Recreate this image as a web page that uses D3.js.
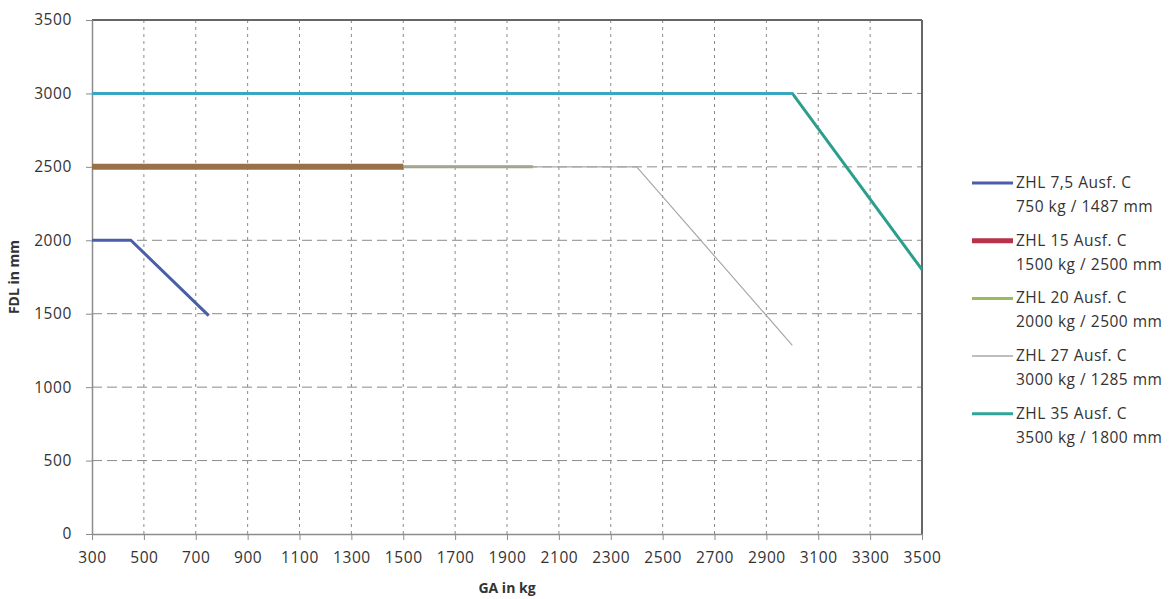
<!DOCTYPE html>
<html><head><meta charset="utf-8">
<script src="https://cdn.jsdelivr.net/npm/d3@7"></script>
<style>body{margin:0;background:#fff;} svg{display:block;}</style>
</head><body>
<svg id="c" width="1171" height="599"></svg>
<script>
const xTicks = [300,500,700,900,1100,1300,1500,1700,1900,2100,2300,2500,2700,2900,3100,3300,3500];
const yTicks = [0,500,1000,1500,2000,2500,3000,3500];
const seriesNames = ["ZHL 7,5 Ausf. C","ZHL 15 Ausf. C","ZHL 20 Ausf. C","ZHL 27 Ausf. C","ZHL 35 Ausf. C"];
const seriesSub = ["750 kg / 1487 mm","1500 kg / 2500 mm","2000 kg / 2500 mm","3000 kg / 1285 mm","3500 kg / 1800 mm"];
const zhl75 = [[300,2000],[450,2000],[750,1487]];
const zhl15 = [[300,2500],[1500,2500]];
const zhl20 = [[300,2500],[2000,2500]];
const zhl27 = [[300,2500],[2400,2500],[3000,1285]];
const zhl35 = [[300,3000],[3000,3000],[3500,1800]];

const svg = d3.select("#c");
const m = {l:92, r:922, t:20, b:534};
const x = d3.scaleLinear().domain([300,3500]).range([m.l,m.r]);
const y = d3.scaleLinear().domain([0,3500]).range([m.b,m.t]);
const font = "'Open Sans', sans-serif";

const defs = svg.append("defs");
const g35 = defs.append("linearGradient").attr("id","g35").attr("gradientUnits","userSpaceOnUse")
  .attr("x1",x(300)).attr("x2",x(3500)).attr("y1",0).attr("y2",0);
const off = (x(3000)-x(300))/(x(3500)-x(300));
g35.append("stop").attr("offset",off).attr("stop-color","#3ba6c2");
g35.append("stop").attr("offset",off+0.001).attr("stop-color","#2b9e8c");

svg.append("g").selectAll("line").data(xTicks.slice(1,-1)).join("line")
  .attr("x1",d=>x(d)).attr("x2",d=>x(d)).attr("y1",m.t).attr("y2",m.b)
  .attr("stroke","#8a8a8a").attr("stroke-width",1).attr("stroke-dasharray","3,4");
svg.append("g").selectAll("line").data(yTicks.slice(1,-1)).join("line")
  .attr("x1",m.l).attr("x2",m.r).attr("y1",d=>y(d)).attr("y2",d=>y(d))
  .attr("stroke","#8a8a8a").attr("stroke-width",1).attr("stroke-dasharray","10,5");

svg.append("line").attr("x1",m.l).attr("x2",m.r).attr("y1",m.t).attr("y2",m.t).attr("stroke","#666").attr("stroke-width",2);
svg.append("line").attr("x1",m.r).attr("x2",m.r).attr("y1",m.t).attr("y2",m.b).attr("stroke","#666").attr("stroke-width",2);

const fmt = d3.format("d");
const xAxis = svg.append("g").attr("transform",`translate(0,${m.b})`)
  .call(d3.axisBottom(x).tickValues(xTicks).tickFormat(fmt).tickSize(6).tickSizeOuter(0).tickPadding(12));
const yAxis = svg.append("g").attr("transform",`translate(${m.l},0)`)
  .call(d3.axisLeft(y).tickValues(yTicks).tickFormat(fmt).tickSize(6).tickSizeOuter(0).tickPadding(14));
[xAxis,yAxis].forEach(a=>{
  a.select(".domain").attr("stroke","#8c8c8c").attr("stroke-width",1.5);
  a.selectAll(".tick line").attr("stroke","#8c8c8c");
  a.selectAll("text").attr("font-family",font).attr("font-size",15.5).attr("letter-spacing",0.6).attr("fill","#333");
});

const line = d3.line().x(d=>x(d[0])).y(d=>y(d[1]));
const series = [
  {d:zhl35, c:"url(#g35)", w:3},
  {d:zhl20, c:"#96a560", w:3},
  {d:zhl27, c:"#a8a8a8", w:1.2},
  {d:zhl15, c:"#9a7048", w:6},
  {d:zhl75, c:"#4a5fa5", w:3}
];
series.forEach(s=>{
  svg.append("path").datum(s.d).attr("d",line).attr("fill","none")
    .attr("stroke",s.c).attr("stroke-width",s.w).attr("stroke-linejoin","round");
});

svg.append("text").attr("x",x(1900)).attr("y",593).attr("text-anchor","middle")
  .attr("font-family",font).attr("font-size",14).attr("font-weight","bold").attr("fill","#333").text("GA in kg");
svg.append("text").attr("transform","translate(19,277) rotate(-90)").attr("text-anchor","middle")
  .attr("font-family",font).attr("font-size",14).attr("font-weight","bold").attr("fill","#333").text("FDL in mm");

const legColors = ["#4a5fa5","#b8324a","#9bbb59","#a8a8a8","#2fa59a"];
const legW = [3,5,3,1.5,3];
const lg = svg.append("g");
seriesNames.forEach((n,i)=>{
  const yy = 183 + i*57.7;
  lg.append("line").attr("x1",972).attr("x2",1013).attr("y1",yy).attr("y2",yy)
    .attr("stroke",legColors[i]).attr("stroke-width",legW[i]);
  lg.append("text").attr("x",1016).attr("y",yy+5).attr("font-family",font).attr("font-size",15.5).attr("letter-spacing",0.5).attr("fill","#333").text(n);
  lg.append("text").attr("x",1016).attr("y",yy+29).attr("font-family",font).attr("font-size",15.5).attr("letter-spacing",0.5).attr("fill","#333").text(seriesSub[i]);
});
</script>
</body></html>
